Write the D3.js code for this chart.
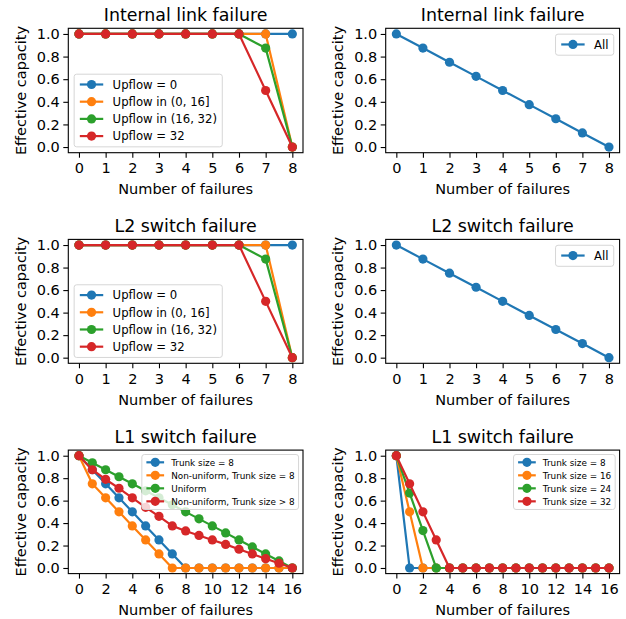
<!DOCTYPE html>
<html>
<head>
<meta charset="utf-8">
<script src="https://cdn.jsdelivr.net/npm/d3@7/dist/d3.min.js"></script>
<style>
	body { margin: 0; background: #fff; }
	text { font-family: 'DejaVu Sans', sans-serif; fill: #000; }
</style>
</head>
<body>
<div id="root"></div>
<script>
const failures8		= [0, 1, 2, 3, 4, 5, 6, 7, 8];
const failures16	= [0, 1, 2, 3, 4, 5, 6, 7, 8, 9, 10, 11, 12, 13, 14, 15, 16];

const ticks8		= [0, 1, 2, 3, 4, 5, 6, 7, 8];
const ticks16		= [0, 2, 4, 6, 8, 10, 12, 14, 16];
const yTicks		= [0, 0.2, 0.4, 0.6, 0.8, 1.0];

const titles		= ['Internal link failure', 'Internal link failure', 'L2 switch failure', 'L2 switch failure', 'L1 switch failure', 'L1 switch failure'];
const xLabel		= 'Number of failures';
const yLabel		= 'Effective capacity';

// upflow split (internal link + L2 switch, left column)
const upflowNames	= ['Upflow = 0', 'Upflow in (0, 16]', 'Upflow in (16, 32)', 'Upflow = 32'];
const upflowZero	= [1, 1, 1, 1, 1, 1, 1, 1, 1];
const upflowLow		= [1, 1, 1, 1, 1, 1, 1, 1, 0];
const upflowMid		= [1, 1, 1, 1, 1, 1, 1, 0.875, 0];
const upflowFull	= [1, 1, 1, 1, 1, 1, 1, 0.5, 0];

// right column, first two rows
const allNames		= ['All'];
const allValues		= [1, 0.875, 0.75, 0.625, 0.5, 0.375, 0.25, 0.125, 0];

// L1 switch, left
const l1Names		= ['Trunk size = 8', 'Non-uniform, Trunk size = 8', 'Uniform', 'Non-uniform, Trunk size > 8'];
const trunk8		= [1, 0.875, 0.75, 0.625, 0.5, 0.375, 0.25, 0.125, 0, 0, 0, 0, 0, 0, 0, 0, 0];
const nonUniform8	= [1, 0.75, 0.625, 0.5, 0.375, 0.25, 0.125, 0, 0, 0, 0, 0, 0, 0, 0, 0, 0];
const uniform		= [1, 0.9375, 0.875, 0.8125, 0.75, 0.6875, 0.625, 0.5625, 0.5, 0.4375, 0.375, 0.3125, 0.25, 0.1875, 0.125, 0.0625, 0];
const nonUniformBig	= [1, 0.875, 0.79, 0.71, 0.625, 0.54, 0.46, 0.375, 0.33, 0.29, 0.25, 0.21, 0.167, 0.125, 0.083, 0.042, 0];

// L1 switch, right
const trunkNames	= ['Trunk size = 8', 'Trunk size = 16', 'Trunk size = 24', 'Trunk size = 32'];
const trunkSize8	= [1, 0, 0, 0, 0, 0, 0, 0, 0, 0, 0, 0, 0, 0, 0, 0, 0];
const trunkSize16	= [1, 0.5, 0, 0, 0, 0, 0, 0, 0, 0, 0, 0, 0, 0, 0, 0, 0];
const trunkSize24	= [1, 0.667, 0.333, 0, 0, 0, 0, 0, 0, 0, 0, 0, 0, 0, 0, 0, 0];
const trunkSize32	= [1, 0.75, 0.5, 0.25, 0, 0, 0, 0, 0, 0, 0, 0, 0, 0, 0, 0, 0];

const colors		= ['#1f77b4', '#ff7f0e', '#2ca02c', '#d62728'];

const canvasWidth	= 626;
const canvasHeight	= 619;
const cols			= [{ left: 68.3, right: 303 }, { left: 385.7, right: 619.6 }];
const rows			= [{ top: 28.3, bottom: 152.7 }, { top: 239.4, bottom: 363.3 }, { top: 450.1, bottom: 573.6 }];

const baseSize		= 14.5;
const titleSize		= 17.4;
const lineWidth		= 2.2;
const markerR		= 4.6;

const panels = [
	{ row: 0, col: 0, x: failures8, ticks: ticks8, names: upflowNames, values: [upflowZero, upflowLow, upflowMid, upflowFull], loc: 'lower left', fs: 11.7 },
	{ row: 0, col: 1, x: failures8, ticks: ticks8, names: allNames, values: [allValues], loc: 'upper right', fs: 11.7 },
	{ row: 1, col: 0, x: failures8, ticks: ticks8, names: upflowNames, values: [upflowZero, upflowLow, upflowMid, upflowFull], loc: 'lower left', fs: 11.7 },
	{ row: 1, col: 1, x: failures8, ticks: ticks8, names: allNames, values: [allValues], loc: 'upper right', fs: 11.7 },
	{ row: 2, col: 0, x: failures16, ticks: ticks16, names: l1Names, values: [trunk8, nonUniform8, uniform, nonUniformBig], loc: 'upper right', fs: 8.85 },
	{ row: 2, col: 1, x: failures16, ticks: ticks16, names: trunkNames, values: [trunkSize8, trunkSize16, trunkSize24, trunkSize32], loc: 'upper right', fs: 8.85 },
];

const svg	= d3.select('#root').append('svg')
	.attr('width', canvasWidth)
	.attr('height', canvasHeight)
	.style('display', 'block');

svg.append('rect').attr('width', canvasWidth).attr('height', canvasHeight).attr('fill', '#fff');

panels.forEach((p, i) => drawPanel(p, titles[i]));

function drawPanel(p, title) {
	let box		= { left: cols[p.col].left, right: cols[p.col].right, top: rows[p.row].top, bottom: rows[p.row].bottom };
	let xMin	= d3.min(p.x), xMax = d3.max(p.x);
	let xPad	= (xMax - xMin) * 0.05;

	let x		= d3.scaleLinear().domain([xMin - xPad, xMax + xPad]).range([box.left, box.right]);
	let y		= d3.scaleLinear().domain([-0.05, 1.05]).range([box.bottom, box.top]);

	let g		= svg.append('g').attr('class', 'panel');

	// axes
	let xAxis	= g.append('g')
		.attr('transform', 'translate(0,' + box.bottom + ')')
		.call(d3.axisBottom(x).tickValues(p.ticks).tickFormat(d3.format('d')).tickSize(5).tickPadding(5.5).tickSizeOuter(0));

	let yAxis	= g.append('g')
		.attr('transform', 'translate(' + box.left + ',0)')
		.call(d3.axisLeft(y).tickValues(yTicks).tickFormat(d3.format('.1f')).tickSize(5).tickPadding(3.5).tickSizeOuter(0));

	[xAxis, yAxis].forEach((a) => {
		a.attr('font-family', null).attr('font-size', null);
		a.select('.domain').remove();
		a.selectAll('line').attr('stroke', '#000').attr('stroke-width', 1.1);
		a.selectAll('text').style('font-size', baseSize + 'px');
	});

	// series: line then markers, in order
	let line	= d3.line().x((d) => x(d[0])).y((d) => y(d[1]));

	p.values.forEach((vals, k) => {
		let pts	= p.x.map((v, j) => [v, vals[j]]);
		let s	= g.append('g').attr('class', 'series');

		s.append('path')
			.attr('d', line(pts))
			.attr('fill', 'none')
			.attr('stroke', colors[k])
			.attr('stroke-width', lineWidth)
			.attr('stroke-linejoin', 'round');

		s.selectAll('circle').data(pts).enter().append('circle')
			.attr('cx', (d) => x(d[0]))
			.attr('cy', (d) => y(d[1]))
			.attr('r', markerR)
			.attr('fill', colors[k]);
	});

	// spines
	g.append('rect')
		.attr('x', box.left)
		.attr('y', box.top)
		.attr('width', box.right - box.left)
		.attr('height', box.bottom - box.top)
		.attr('fill', 'none')
		.attr('stroke', '#000')
		.attr('stroke-width', 1.1);

	g.append('text')
		.attr('x', (box.left + box.right) / 2)
		.attr('y', box.top - 7)
		.attr('text-anchor', 'middle')
		.style('font-size', titleSize + 'px')
		.text(title);

	g.append('text')
		.attr('x', (box.left + box.right) / 2)
		.attr('y', box.bottom + 41.5)
		.attr('text-anchor', 'middle')
		.style('font-size', baseSize + 'px')
		.text(xLabel);

	g.append('text')
		.attr('transform', 'translate(' + (box.left - 42.3) + ',' + ((box.top + box.bottom) / 2) + ') rotate(-90)')
		.attr('text-anchor', 'middle')
		.style('font-size', baseSize + 'px')
		.text(yLabel);

	drawLegend(g, box, p);
}

function drawLegend(g, box, p) {
	let fs		= p.fs;
	let n		= p.names.length;
	let step	= fs * 1.47;
	let height	= fs * (1.47 * (n - 1) + 1.8);
	let handle	= fs * 2;

	let lg		= g.append('g').attr('class', 'legend');
	let frame	= lg.append('rect')
		.attr('rx', 2.5)
		.attr('ry', 2.5)
		.attr('fill', '#fff')
		.attr('fill-opacity', 0.8)
		.attr('stroke', '#d6d6d6')
		.attr('stroke-width', 1);

	let items	= lg.selectAll('.item').data(p.names).enter().append('g')
		.attr('class', 'item')
		.attr('transform', (o, i) => ('translate(0,' + (fs * 0.88 + i * step) + ')'));

	items.append('line')
		.attr('x1', fs * 0.4 + 1)
		.attr('x2', fs * 0.4 + 1 + handle)
		.attr('stroke', (o, i) => colors[i])
		.attr('stroke-width', lineWidth);

	items.append('circle')
		.attr('cx', fs * 0.4 + 1 + handle / 2)
		.attr('r', markerR)
		.attr('fill', (o, i) => colors[i]);

	let labels	= items.append('text')
		.attr('x', fs * 0.4 + 1 + handle + fs * 0.8)
		.attr('dy', '0.36em')
		.style('font-size', fs + 'px')
		.text((o) => o);

	let textW	= d3.max(labels.nodes(), (d) => d.getComputedTextLength());
	let width	= fs * 0.4 + 1 + handle + fs * 0.8 + textW + fs * 0.45;

	frame.attr('width', width).attr('height', height);

	let lx, ly;
	if (p.loc == 'lower left') {
		lx	= box.left + fs * 0.5;
		ly	= box.bottom - fs * 0.5 - height;
	} else {
		lx	= box.right - fs * 0.5 - width;
		ly	= box.top + fs * 0.5;
	}
	lg.attr('transform', 'translate(' + lx + ',' + ly + ')');
}
</script>
</body>
</html>
